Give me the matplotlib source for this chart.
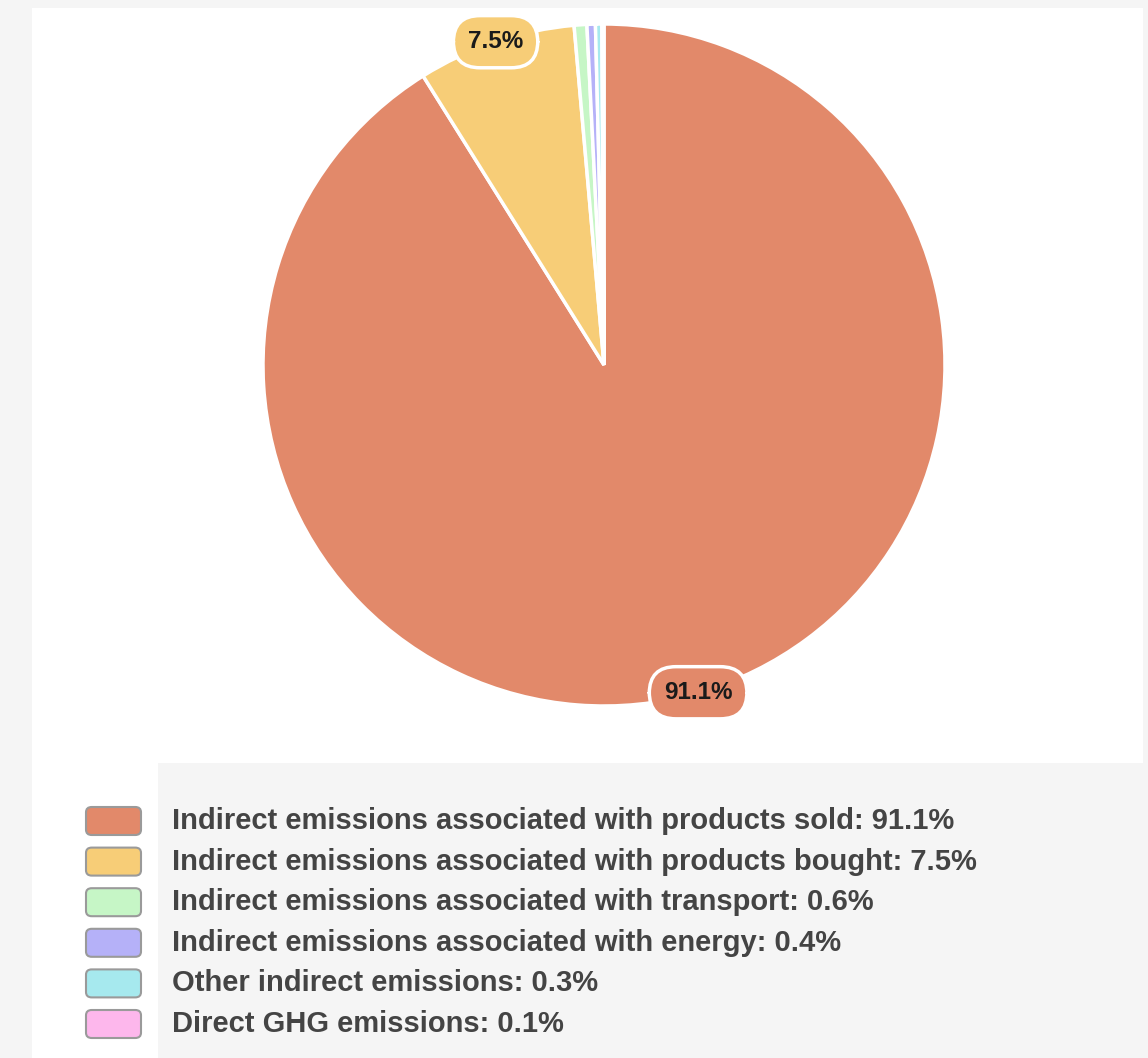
import numpy as np
import matplotlib.pyplot as plt
from matplotlib.patches import Rectangle, FancyBboxPatch

plt.rcParams['font.family'] = ['Liberation Sans', 'DejaVu Sans']

# data
categories = [
    "Indirect emissions associated with products sold",
    "Indirect emissions associated with products bought",
    "Indirect emissions associated with transport",
    "Indirect emissions associated with energy",
    "Other indirect emissions",
    "Direct GHG emissions",
]
shares = [91.1, 7.5, 0.6, 0.4, 0.3, 0.1]
colors = ['#E2896A', '#F7CD77', '#C6F6C6', '#B5B1F8', '#A6E9EE', '#FDB7EC']

W, H = 1148, 1058
fig = plt.figure(figsize=(W / 100, H / 100), dpi=100, facecolor='#f5f5f5')

def px(x0, y0, x1, y1):
    # pixel box (top-left origin) -> figure fraction rect
    return [x0 / W, 1 - y1 / H, (x1 - x0) / W, (y1 - y0) / H]

# white panels behind the chart
for box in [(32, 8, 1143, 763), (32, 763, 158, 1058)]:
    r = px(*box)
    fig.patches.append(Rectangle((r[0], r[1]), r[2], r[3], transform=fig.transFigure,
                                 facecolor='white', edgecolor='none', zorder=-5))

ax = fig.add_axes(px(263, 24, 945, 706))
ax.set_zorder(1)
ax.patch.set_visible(False)
wedges, _ = ax.pie(shares, colors=colors, startangle=90, counterclock=False,
                   wedgeprops=dict(edgecolor='white', linewidth=2.5))
ax.set_xlim(-1, 1)
ax.set_ylim(-1, 1)
ax.axis('off')

for w, v, c in zip(wedges, shares, colors):
    if v < 1:
        continue
    ang = np.deg2rad((w.theta1 + w.theta2) / 2)
    ax.text(np.cos(ang), np.sin(ang), f"{v}%", ha='center', va='center',
            fontsize=17.5, fontweight='bold', color='#1a1a1a', zorder=5,
            bbox=dict(boxstyle='round,pad=0.6,rounding_size=1.1',
                      fc=c, ec='white', lw=2.5))

# legend
row0, step = 821, 40.6
for i, (cat, v, c) in enumerate(zip(categories, shares, colors)):
    yc = row0 + i * step
    r = px(86, yc - 14, 141, yc + 14)
    fig.patches.append(FancyBboxPatch((r[0], r[1]), r[2], r[3],
                                      boxstyle='round,pad=0,rounding_size=0.005',
                                      transform=fig.transFigure, facecolor=c,
                                      edgecolor='#9a9a9a', linewidth=1.5, zorder=2))
    fig.text(172 / W, 1 - yc / H, f"{cat}: {v}%", ha='left', va='center',
             fontsize=21, fontweight='bold', color='#444444')

fig.savefig('out.png', dpi=100, facecolor=fig.get_facecolor())
